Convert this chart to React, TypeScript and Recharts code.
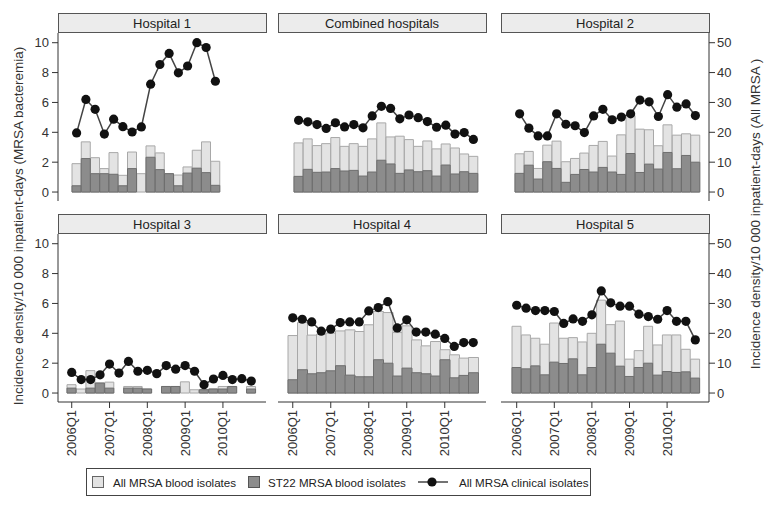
import React from 'react';
import { ComposedChart, Bar, Line, XAxis, YAxis } from 'recharts';

const FONT = '"Liberation Sans", Arial, Helvetica, sans-serif';

const quarters = [
  '2006Q1', '2006Q2', '2006Q3', '2006Q4',
  '2007Q1', '2007Q2', '2007Q3', '2007Q4',
  '2008Q1', '2008Q2', '2008Q3', '2008Q4',
  '2009Q1', '2009Q2', '2009Q3', '2009Q4',
  '2010Q1', '2010Q2', '2010Q3', '2010Q4',
];

const leftTicks = [0, 2, 4, 6, 8, 10];
const rightTicks = [0, 10, 20, 30, 40, 50];

// Hospital 1
const h1All = [1.9, 3.36, 2.3, 1.57, 2.64, 1.12, 2.68, 1.23, 3.09, 2.62, 1.23, 1.14, 1.68, 2.8, 3.36, 2.06, null, null, null, null];
const h1St22 = [0.42, 2.24, 1.23, 1.23, 1.19, 0.42, 1.57, null, 2.33, 1.5, 1.23, 0.42, 1.27, 1.6, 1.3, 0.45, null, null, null, null];
const h1Clin = [19.8, 31.0, 27.7, 19.4, 24.4, 21.9, 20.1, 21.8, 36.1, 42.7, 46.4, 39.9, 42.2, 50.0, 48.4, 37.1, null, null, null, null];

// Combined hospitals
const cAll = [3.29, 3.56, 3.11, 3.24, 3.65, 3.06, 3.24, 3.06, 3.56, 4.63, 3.69, 3.74, 3.51, 3.06, 3.42, 2.89, 3.22, 2.95, 2.55, 2.39];
const cSt22 = [1.05, 1.52, 1.32, 1.34, 1.57, 1.41, 1.45, 1.07, 1.34, 2.13, 1.88, 1.25, 1.48, 1.36, 1.43, 1.07, 1.81, 1.21, 1.36, 1.25];
const cClin = [24.0, 23.5, 22.6, 21.3, 23.2, 21.8, 22.6, 21.5, 25.5, 28.7, 28.0, 24.5, 25.8, 24.9, 23.6, 21.7, 22.4, 19.4, 19.9, 17.6];

// Hospital 2
const h2All = [2.56, 2.72, 1.58, 3.14, 3.41, 2.03, 2.25, 2.61, 3.12, 3.39, 2.41, 3.83, 5.12, 4.21, 4.17, 3.1, 4.5, 3.81, 3.9, 3.81];
const h2St22 = [1.25, 1.8, 0.87, 2.03, 1.58, 0.65, 1.18, 1.51, 1.34, 1.65, 1.34, 1.18, 2.58, 1.31, 1.87, 1.54, 2.65, 1.56, 2.45, 2.0];
const h2Clin = [26.2, 21.4, 18.8, 18.8, 26.2, 22.7, 22.2, 19.9, 25.5, 27.7, 24.2, 25.1, 26.2, 30.8, 30.2, 25.3, 32.6, 28.4, 29.5, 25.6];

// Hospital 3
const h3All = [0.56, 0.27, 1.5, 0.67, 0.73, null, 0.44, 0.44, 0.27, null, 0.44, 0.44, 0.75, 0.22, 0.22, 0.27, 0.44, 0.44, null, 0.44];
const h3St22 = [0.33, null, 0.33, 0.67, 0.33, null, 0.33, 0.33, 0.27, null, 0.44, 0.44, null, null, 0.22, 0.27, 0.27, 0.44, null, 0.27];
const h3Clin = [6.9, 4.5, 4.5, 6.1, 9.7, 6.7, 10.6, 7.3, 7.6, 6.5, 9.2, 8.0, 9.2, 7.3, 2.8, 4.7, 5.9, 4.5, 4.8, 4.0];

// Hospital 4
const h4All = [3.85, 4.72, 3.88, 3.94, 4.01, 4.16, 4.23, 4.12, 4.57, 5.46, 5.39, 4.05, 4.5, 3.56, 3.16, 3.45, 2.9, 2.56, 2.34, 2.38];
const h4St22 = [0.89, 1.56, 1.29, 1.36, 1.49, 1.83, 1.2, 1.09, 1.09, 2.23, 2.0, 1.14, 1.67, 1.36, 1.29, 1.14, 2.23, 1.02, 1.18, 1.36];
const h4Clin = [25.2, 24.7, 23.8, 20.7, 21.4, 23.6, 23.8, 23.8, 27.5, 28.6, 30.6, 21.8, 24.5, 20.4, 20.4, 19.7, 18.3, 15.6, 16.9, 16.9];

// Hospital 5
const h5All = [4.47, 3.89, 3.67, 3.27, 4.69, 3.67, 3.71, 3.42, 4.0, 6.22, 4.58, 4.82, 2.27, 2.84, 4.47, 3.22, 3.89, 3.89, 2.93, 2.27];
const h5St22 = [1.71, 1.62, 1.82, 1.22, 2.07, 1.98, 2.29, 1.22, 1.71, 3.27, 2.67, 1.8, 1.11, 1.71, 2.0, 1.2, 1.44, 1.38, 1.42, 1.0];
const h5Clin = [29.4, 28.4, 27.6, 27.6, 27.3, 23.3, 24.8, 24.0, 26.2, 34.2, 30.2, 29.1, 29.1, 26.4, 25.6, 24.7, 27.6, 24.0, 24.0, 17.8];

const LIGHT_FILL = '#e3e3e3';
const LIGHT_STROKE = '#a8a8a8';
const DARK_FILL = '#8c8c8c';
const DARK_STROKE = '#6e6e6e';

const COL_LEFT = [58, 278, 501];
const PLOT_W = 208;
const PLOT_H = 168;
const ROW_TOP = [33, 234];
const STRIP_TOP = [13, 214];
const LEFT_AXIS_W = 40;
const RIGHT_AXIS_W = 45;
const X_AXIS_H = 60;

const XTick = (props: any) => {
  const { x, y, payload } = props;
  return (
    <text
      x={x}
      y={y}
      transform={`rotate(-90 ${x} ${y})`}
      textAnchor="end"
      dominantBaseline="central"
      fontSize={13}
      fill="#333"
      fontFamily={FONT}
    >
      {payload.value}
    </text>
  );
};

type PanelProps = {
  all: (number | null)[];
  st22: (number | null)[];
  clinical: (number | null)[];
  col: number;
  row: number;
  padL: number;
  padR: number;
};

function Panel({ all, st22, clinical, col, row, padL, padR }: PanelProps) {
  const data = quarters.map((q, i) => ({ q, all: all[i], st: st22[i], clin: clinical[i] }));
  const showLeft = col === 0;
  const showRight = col === 2;
  const showX = row === 1;
  const chartLeft = COL_LEFT[col] - (showLeft ? LEFT_AXIS_W : 0);
  const W = PLOT_W + (showLeft ? LEFT_AXIS_W : 0) + (showRight ? RIGHT_AXIS_W : 0);
  const H = PLOT_H + (showX ? X_AXIS_H : 0);
  return (
    <div style={{ position: 'absolute', left: chartLeft, top: ROW_TOP[row], width: W, height: H }}>
      <ComposedChart
        width={W}
        height={H}
        data={data}
        margin={{ top: 0, right: 0, bottom: 0, left: 0 }}
        barCategoryGap={0}
        barGap={0}
      >
        <XAxis
          xAxisId="a"
          dataKey="q"
          hide={!showX}
          height={X_AXIS_H}
          interval={3}
          padding={{ left: padL, right: padR }}
          axisLine={{ stroke: '#333', strokeWidth: 1 }}
          tickLine={{ stroke: '#333', strokeWidth: 1 }}
          tickSize={6}
          tickMargin={2}
          tick={<XTick />}
        />
        <XAxis xAxisId="b" dataKey="q" hide padding={{ left: padL, right: padR }} />
        <YAxis
          yAxisId="left"
          orientation="left"
          domain={[-0.6, 10.65]}
          ticks={leftTicks}
          hide={!showLeft}
          width={LEFT_AXIS_W}
          axisLine={{ stroke: '#333', strokeWidth: 1 }}
          tickLine={{ stroke: '#333', strokeWidth: 1 }}
          tickSize={6}
          tickMargin={3}
          tick={{ fontSize: 13, fill: '#333', fontFamily: FONT }}
          allowDataOverflow
        />
        <YAxis
          yAxisId="right"
          orientation="right"
          domain={[-3, 53.25]}
          ticks={rightTicks}
          hide={!showRight}
          width={RIGHT_AXIS_W}
          axisLine={{ stroke: '#333', strokeWidth: 1 }}
          tickLine={{ stroke: '#333', strokeWidth: 1 }}
          tickSize={6}
          tickMargin={2}
          tick={{ fontSize: 13, fill: '#333', fontFamily: FONT }}
          allowDataOverflow
        />
        <Bar
          xAxisId="a"
          yAxisId="left"
          dataKey="all"
          fill={LIGHT_FILL}
          stroke={LIGHT_STROKE}
          strokeWidth={1}
          isAnimationActive={false}
        />
        <Bar
          xAxisId="b"
          yAxisId="left"
          dataKey="st"
          fill={DARK_FILL}
          stroke={DARK_STROKE}
          strokeWidth={1}
          isAnimationActive={false}
        />
        <Line
          xAxisId="a"
          yAxisId="right"
          dataKey="clin"
          type="linear"
          stroke="#444"
          strokeWidth={1.5}
          dot={{ r: 4.6, fill: '#111', stroke: '#111', strokeWidth: 0 }}
          activeDot={false}
          isAnimationActive={false}
        />
      </ComposedChart>
    </div>
  );
}

const titles = [
  ['Hospital 1', 'Combined hospitals', 'Hospital 2'],
  ['Hospital 3', 'Hospital 4', 'Hospital 5'],
];

export default function App() {
  return (
    <div
      style={{
        position: 'absolute',
        left: 0,
        top: 0,
        width: 770,
        height: 508,
        background: '#fff',
        fontFamily: FONT,
        overflow: 'hidden',
      }}
    >
      <svg width={770} height={508} style={{ position: 'absolute', left: 0, top: 0 }}>
        {titles.map((r, ri) =>
          r.map((t, ci) => (
            <g key={t}>
              <rect
                x={COL_LEFT[ci] + 0.5}
                y={STRIP_TOP[ri] + 0.5}
                width={PLOT_W}
                height={19}
                fill="#ececec"
                stroke="#555"
                strokeWidth={1}
              />
              <text
                x={COL_LEFT[ci] + PLOT_W / 2}
                y={STRIP_TOP[ri] + 10}
                textAnchor="middle"
                dominantBaseline="central"
                fontSize={13}
                fill="#222"
                fontFamily={FONT}
              >
                {t}
              </text>
            </g>
          ))
        )}
        <text
          x={18}
          y={226}
          transform="rotate(-90 18 226)"
          textAnchor="middle"
          dominantBaseline="central"
          fontSize={13.5}
          fill="#333"
          fontFamily={FONT}
        >
          Incidence density/10 000 inpatient-days (MRSA bacteremia)
        </text>
        <text
          x={755}
          y={214}
          transform="rotate(-90 755 214)"
          textAnchor="middle"
          dominantBaseline="central"
          fontSize={13.5}
          fill="#333"
          fontFamily={FONT}
        >
          Incidence density/10 000 inpatient-days (All MRSA )
        </text>
        {/* Legend */}
        <rect x={86.5} y={468.5} width={504} height={27} fill="#fff" stroke="#444" strokeWidth={1} />
        <rect x={92.5} y={476.5} width={11} height={11} fill={LIGHT_FILL} stroke="#666" strokeWidth={1} />
        <text x={113} y={482} dominantBaseline="central" fontSize={11.6} fill="#222" fontFamily={FONT}>
          All MRSA blood isolates
        </text>
        <rect x={248.5} y={476.5} width={11} height={11} fill={DARK_FILL} stroke="#555" strokeWidth={1} />
        <text x={268} y={482} dominantBaseline="central" fontSize={11.6} fill="#222" fontFamily={FONT}>
          ST22 MRSA blood isolates
        </text>
        <line x1={418} y1={482} x2={448} y2={482} stroke="#444" strokeWidth={1.5} />
        <circle cx={432} cy={482} r={4.6} fill="#111" />
        <text x={459} y={482} dominantBaseline="central" fontSize={11.6} fill="#222" fontFamily={FONT}>
          All MRSA clinical isolates
        </text>
      </svg>
      <Panel all={h1All} st22={h1St22} clinical={h1Clin} col={0} row={0} padL={14} padR={9} />
      <Panel all={cAll} st22={cSt22} clinical={cClin} col={1} row={0} padL={16} padR={8} />
      <Panel all={h2All} st22={h2St22} clinical={h2Clin} col={2} row={0} padL={14} padR={9} />
      <Panel all={h3All} st22={h3St22} clinical={h3Clin} col={0} row={1} padL={9} padR={10} />
      <Panel all={h4All} st22={h4St22} clinical={h4Clin} col={1} row={1} padL={10} padR={8} />
      <Panel all={h5All} st22={h5St22} clinical={h5Clin} col={2} row={1} padL={11} padR={9} />
    </div>
  );
}
